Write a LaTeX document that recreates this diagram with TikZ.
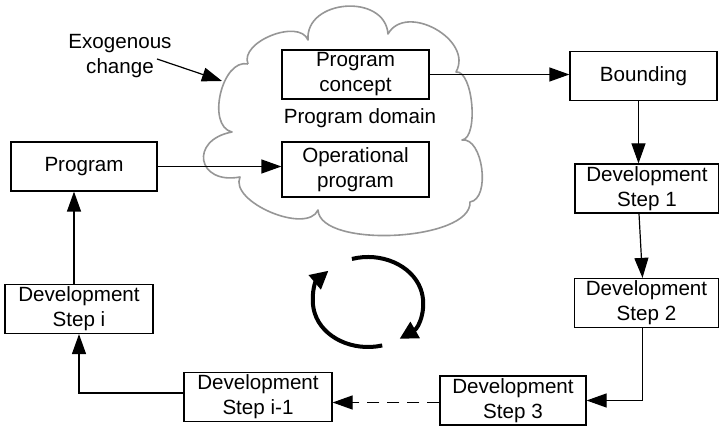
\documentclass[tikz,border=0pt]{standalone}
\usepackage{fontspec}
\setmainfont{Liberation Sans}
\usetikzlibrary{arrows.meta}
\definecolor{cloudgray}{RGB}{150,150,150}

\begin{document}
\begin{tikzpicture}[x=0.5pt, y=-0.5pt,
    every node/.style={font=\fontsize{10.3}{12.5}\selectfont},
    box/.style={draw, line width=0.6pt, align=center, inner sep=0pt,
      minimum width=73.5pt, minimum height=24.5pt},
    link/.style={line width=0.6pt, -{Triangle[length=10pt, width=7pt]}},
    turn/.style={line width=2pt, -{Triangle[length=9pt, width=9pt]}}]
  \useasboundingbox (0,0) rectangle (719,426);
  % program domain cloud
  \draw [cloudgray, line width=0.8pt, line join=round]
    (248,64) .. controls (239,42) and (299,18) .. (308,40)
    .. controls (305,-1) and (385,-7) .. (388,34)
    .. controls (406,2) and (474,40) .. (456,72)
    .. controls (473,70) and (479,138) .. (462,140)
    .. controls (483,137) and (491,199) .. (470,202)
    .. controls (472,241) and (320,249) .. (318,210)
    .. controls (307,235) and (229,202) .. (240,177)
    .. controls (197,185) and (189,140) .. (232,132)
    .. controls (206,126) and (222,58) .. (248,64);
  \node (domain) at (360,118) {Program domain};
  \node [box] (concept) at (355.5,74.5) {Program\\concept};
  \node [box, minimum height=27.5pt] (oper) at (355.5,169.5) {Operational\\program};
  \node [box] (bound) at (643.5,76) {Bounding};
  \node [box, minimum width=72pt] (step1) at (647,188.5) {Development\\Step 1};
  \node [box, minimum width=72pt] (step2) at (646.5,303) {Development\\Step 2};
  \node [box, minimum width=73pt] (step3) at (513,400.5) {Development\\Step 3};
  \node [box, minimum width=74pt] (stepim) at (258,397) {Development\\Step i-1};
  \node [box, minimum width=74pt] (stepi) at (79,309) {Development\\Step i};
  \node [box, minimum width=73pt] (prog) at (84,166.5) {Program};
  \node [align=center] (exo) at (120,56) {Exogenous\\change};
  \coordinate (hit) at (222,81);
  % connectors
  \draw [link] (157,59) -- (hit);
  \draw [link] (concept.east) -- (concept.east -| bound.west);
  \draw [link] ([xshift=-2.5pt]bound.south) -- ([xshift=-2.5pt]bound.south |- step1.north);
  \draw [link] ([xshift=-4pt]step1.south) -- ([xshift=-2pt]step2.north);
  \draw [link] ([xshift=-2pt]step2.south) |- (step3.east);
  \draw [link, dashed, dash pattern=on 6pt off 4pt] ([yshift=-1pt]step3.west) -- ([yshift=-1pt]step3.west -| stepim.east);
  \draw [link] ([yshift=2pt]stepim.west) -| (stepi.south);
  \draw [link] ([xshift=-2.5pt]stepi.north) -- ([xshift=-2.5pt]stepi.north |- prog.south);
  \draw [link] (prog.east) -- (prog.east -| oper.west);
  % the cycle
  \coordinate (cyc) at (368,302);
  \draw [turn] (cyc) ++(107:27.5pt and 22.5pt)
    arc[start angle=107, end angle=-55, x radius=27.5pt, y radius=22.5pt];
  \draw [turn] (cyc) ++(-75:27.5pt and 22.5pt)
    arc[start angle=-75, end angle=-224, x radius=27.5pt, y radius=22.5pt];
\end{tikzpicture}
\end{document}
